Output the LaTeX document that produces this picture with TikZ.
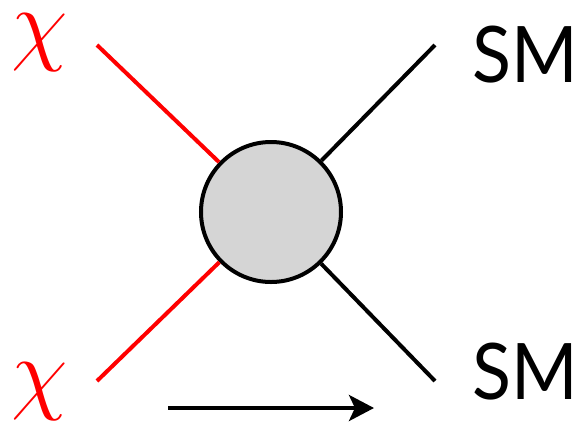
\documentclass[tikz,border=0pt]{standalone}
\usepackage{fontspec}
\setmainfont{Lato}
\usepackage{xcolor}
\usetikzlibrary{arrows.meta}
\definecolor{blobfill}{HTML}{D5D5D5}
\definecolor{dmred}{HTML}{FF0000}
\newcommand{\bigchi}{\scalebox{1.85}{$\chi$}}
\newcommand{\smtext}{\scalebox{0.92}[1]{SM}}
\tikzset{
  leg/.style={line width=2pt},
  dmleg/.style={leg, draw=dmred},
  smleg/.style={leg, draw=black},
  blob/.style={circle, draw=black, fill=blobfill, line width=2pt, minimum size=70pt, inner sep=0pt},
  dmlab/.style={text=dmred, font=\Huge, inner sep=0pt},
  smlab/.style={font=\fontsize{39}{39}\selectfont, inner sep=0pt},
  flow/.style={-{Stealth[length=12.5pt, width=13pt, inset=3pt]}, line width=2pt},
}
\begin{document}
\begin{tikzpicture}[x=0.5pt, y=-0.5pt]
  \useasboundingbox (0,0) rectangle (580,425);
  % end points of the four legs
  \coordinate (chiA) at (97,45);
  \coordinate (chiB) at (97,381);
  \coordinate (smA) at (435,45);
  \coordinate (smB) at (435,381);
  \node[blob] (vtx) at (271,212) {};
  \draw[dmleg] (chiA) -- (vtx);
  \draw[dmleg] (chiB) -- (vtx);
  \draw[smleg] (smA) -- (vtx);
  \draw[smleg] (smB) -- (vtx);
  % labels
  \node[dmlab] (chiAl) at (40,43) {\bigchi};
  \node[dmlab] (chiBl) at (40,392) {\bigchi};
  \node[smlab] (smAl) at (525,55) {\smtext};
  \node[smlab] (smBl) at (525,372) {\smtext};
  % time direction
  \coordinate (tA) at (168,408);
  \coordinate (tB) at (374,408);
  \draw[flow] (tA) -- (tB);
\end{tikzpicture}
\end{document}
